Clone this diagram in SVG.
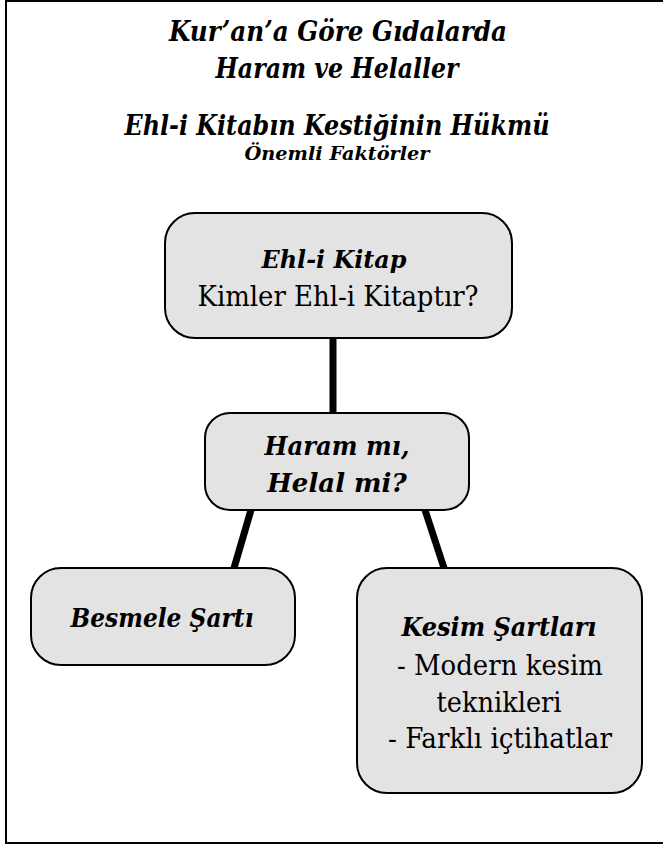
<svg xmlns="http://www.w3.org/2000/svg" width="663" height="847" viewBox="0 0 663 847">
<style>
.node{fill:#e3e3e3;stroke:#000;stroke-width:2}
.t{font-family:"DejaVu Serif Condensed","DejaVu Serif",serif;text-anchor:middle;fill:#000}
.bi{font-weight:bold;font-style:italic}
.bi2{font-family:"DejaVu Serif",serif;font-weight:bold;font-style:italic}
.conn{stroke:#000;stroke-width:7;fill:none}
</style>
<rect x="6" y="1" width="670" height="842" fill="#fff" stroke="#000" stroke-width="2"/>
<g id="title">
<text class="t bi" x="338" y="41" font-size="28" textLength="338" lengthAdjust="spacingAndGlyphs">Kur’an’a Göre Gıdalarda</text>
<text class="t bi" x="337" y="78" font-size="27" textLength="243" lengthAdjust="spacingAndGlyphs">Haram ve Helaller</text>
<text class="t bi" x="337" y="135" font-size="27" textLength="425" lengthAdjust="spacingAndGlyphs">Ehl-i Kitabın Kestiğinin Hükmü</text>
<text class="t bi" x="337" y="160" font-size="19" textLength="185" lengthAdjust="spacingAndGlyphs">Önemli Faktörler</text>
</g>
<g id="connectors">
<line class="conn" x1="333" y1="338" x2="333" y2="413"/>
<line class="conn" x1="251" y1="510" x2="234" y2="568"/>
<line class="conn" x1="425" y1="510" x2="444" y2="568"/>
</g>
<g id="n-ehl">
<rect class="node" x="165" y="213" width="347" height="125" rx="30"/>
<text class="t bi2" x="334" y="268" font-size="25" textLength="145" lengthAdjust="spacingAndGlyphs">Ehl-i Kitap</text>
<text class="t" x="338" y="306" font-size="27" textLength="281" lengthAdjust="spacingAndGlyphs">Kimler Ehl-i Kitaptır?</text>
</g>
<g id="n-haram">
<rect class="node" x="205" y="413" width="264" height="97" rx="25"/>
<text class="t bi2" x="337" y="455" font-size="26" textLength="145" lengthAdjust="spacingAndGlyphs">Haram mı,</text>
<text class="t bi2" x="337" y="492" font-size="26">Helal mi?</text>
</g>
<g id="n-besmele">
<rect class="node" x="31" y="568" width="264" height="97" rx="30"/>
<text class="t bi" x="162" y="627" font-size="26" textLength="183" lengthAdjust="spacingAndGlyphs">Besmele Şartı</text>
</g>
<g id="n-kesim">
<rect class="node" x="357" y="568" width="285" height="225" rx="30"/>
<text class="t bi" x="499" y="636" font-size="26" textLength="195" lengthAdjust="spacingAndGlyphs">Kesim Şartları</text>
<text class="t" x="500" y="675" font-size="27" textLength="206" lengthAdjust="spacingAndGlyphs">- Modern kesim</text>
<text class="t" x="499" y="712" font-size="27" textLength="125" lengthAdjust="spacingAndGlyphs">teknikleri</text>
<text class="t" x="500" y="748" font-size="27" textLength="224" lengthAdjust="spacingAndGlyphs">- Farklı içtihatlar</text>
</g>
</svg>
